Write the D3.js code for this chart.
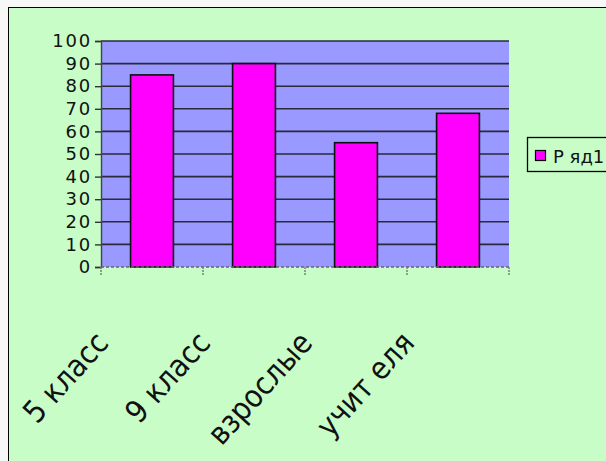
<!DOCTYPE html>
<html>
<head>
<meta charset="utf-8">
<script src="https://cdn.jsdelivr.net/npm/d3@7"></script>
<style>
  html, body { margin: 0; padding: 0; background: #f7f7f7; }
  svg { display: block; }
</style>
</head>
<body>
<svg id="chart" width="606" height="461"></svg>
<script>
// Survey results by group
const categories = ["5 класс", "9 класс", "взрослые", "учит еля"];
const values = [85, 90, 55, 68];
const seriesName = "Р яд1";
const yTicks = [0, 10, 20, 30, 40, 50, 60, 70, 80, 90, 100];

const svg = d3.select("#chart");
const font = "DejaVu Sans, Verdana, sans-serif";
const condensed = "DejaVu Sans Condensed, DejaVu Sans, sans-serif";

// chart area frame
svg.append("rect")
  .attr("x", 8.5).attr("y", 7.5)
  .attr("width", 620).attr("height", 470)
  .attr("fill", "#c8fdc8")
  .attr("stroke", "#000").attr("stroke-width", 1);

const plot = { left: 101, right: 509, top: 41, bottom: 267 };

const x = d3.scaleBand()
  .domain(categories)
  .range([plot.left, plot.right])
  .paddingInner(0.58)
  .paddingOuter(0.29);

const y = d3.scaleLinear()
  .domain([0, 100])
  .range([plot.bottom, plot.top]);

// plot background
svg.append("rect")
  .attr("x", plot.left).attr("y", plot.top)
  .attr("width", plot.right - plot.left)
  .attr("height", plot.bottom - plot.top)
  .attr("fill", "#9999ff");

// horizontal grid lines
svg.append("g")
  .selectAll("line")
  .data(yTicks.filter(d => d > 0))
  .join("line")
  .attr("x1", plot.left).attr("x2", plot.right)
  .attr("y1", d => y(d)).attr("y2", d => y(d))
  .attr("stroke", "#2a2a3a").attr("stroke-width", 1.6);

// bars
svg.append("g")
  .selectAll("rect")
  .data(values)
  .join("rect")
  .attr("x", (d, i) => x(categories[i]))
  .attr("y", d => y(d))
  .attr("width", x.bandwidth())
  .attr("height", d => y(0) - y(d))
  .attr("fill", "#ff00ff")
  .attr("stroke", "#111")
  .attr("stroke-width", 1.6);

// y axis
const yAxis = d3.axisLeft(y)
  .tickValues(yTicks)
  .tickSize(6)
  .tickPadding(3);
const gy = svg.append("g")
  .attr("transform", `translate(${plot.left},0)`)
  .call(yAxis);
gy.select(".domain").attr("stroke", "#444").attr("stroke-width", 1.4);
gy.selectAll(".tick line").attr("stroke", "#333").attr("stroke-width", 1.4);
gy.selectAll(".tick text")
  .attr("font-family", font)
  .attr("font-size", 18)
  .attr("letter-spacing", 1.8)
  .attr("fill", "#111");

// category axis baseline (dashed) and boundary ticks
const step = x.step();
const edges = d3.range(categories.length + 1).map(i => plot.left + i * step);
svg.append("line")
  .attr("x1", plot.left).attr("x2", plot.right)
  .attr("y1", plot.bottom).attr("y2", plot.bottom)
  .attr("stroke", "#666").attr("stroke-width", 1.6)
  .attr("stroke-dasharray", "3,2");
svg.append("g")
  .selectAll("line")
  .data(edges)
  .join("line")
  .attr("x1", d => d).attr("x2", d => d)
  .attr("y1", plot.bottom).attr("y2", plot.bottom + 8)
  .attr("stroke", "#777").attr("stroke-width", 1.4)
  .attr("stroke-dasharray", "2,1");

// rotated category labels
svg.append("g")
  .selectAll("text")
  .data(categories)
  .join("text")
  .attr("transform", d => `translate(${x(d) + x.bandwidth() / 2 - 42},344) rotate(-48)`)
  .attr("text-anchor", "end")
  .attr("font-family", condensed)
  .attr("font-size", 31)
  .attr("fill", "#111")
  .text(d => d);

// legend
const lg = svg.append("g").attr("transform", "translate(527,137)");
lg.append("rect")
  .attr("x", 0.5).attr("y", 0.5)
  .attr("width", 100).attr("height", 34)
  .attr("fill", "#c8fdc8")
  .attr("stroke", "#000").attr("stroke-width", 1.3);
lg.append("rect")
  .attr("x", 8.5).attr("y", 13.5)
  .attr("width", 10).attr("height", 10)
  .attr("fill", "#ff00ff")
  .attr("stroke", "#000").attr("stroke-width", 1.2);
lg.append("text")
  .attr("x", 26).attr("y", 25.5)
  .attr("font-family", font)
  .attr("font-size", 18)
  .attr("fill", "#111")
  .text(seriesName);
</script>
</body>
</html>
